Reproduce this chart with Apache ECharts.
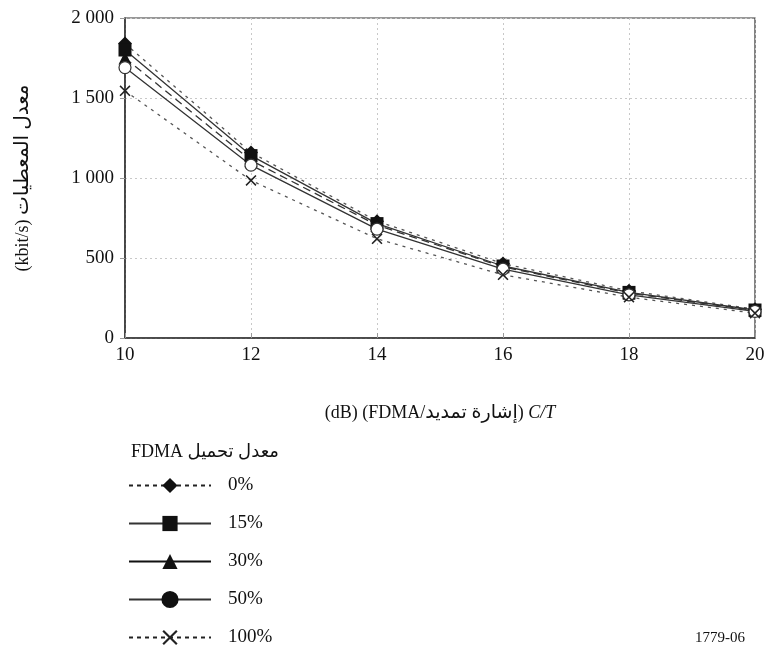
<!DOCTYPE html>
<html>
<head>
<meta charset="utf-8">
<script src="https://cdn.jsdelivr.net/npm/echarts@6/dist/echarts.min.js"></script>
<style>
    html, body { margin: 0; padding: 0; background: #fff; }
    #chart { width: 764px; height: 648px; }
</style>
</head>
<body>
<div id="chart"></div>
<script>
// C/T (dB)
var ctValues = [10, 12, 14, 16, 18, 20]
// kbit/s per FDMA load
var load0 = [1840, 1160, 730, 465, 295, 180]
var load15 = [1800, 1140, 715, 450, 285, 175]
var load30 = [1750, 1110, 705, 445, 280, 172]
var load50 = [1690, 1080, 680, 430, 270, 166]
var load100 = [1545, 985, 620, 395, 255, 155]
var seriesNames = ['0%', '15%', '30%', '50%', '100%']

var serif = '"Liberation Serif", "DejaVu Serif", "DejaVu Sans", serif'
var crossPath = 'path://M0,1L1,0L5,4L9,0L10,1L6,5L10,9L9,10L5,6L1,10L0,9L4,5Z'

function pairs(ys) {
    return ctValues.map(function (x, i) { return [x, ys[i]] })
}

function fmtThousands(v) {
    var s = String(v)
    if (v >= 1000) {
        s = s.slice(0, s.length - 3) + ' ' + s.slice(s.length - 3)
    }
    return s
}

var chart = echarts.init(document.getElementById('chart'))

function makeSeries(name, data, symbol, size, lineType, lineColor, fill) {
    return {
        name: name,
        type: 'line',
        data: pairs(data),
        symbol: symbol,
        symbolSize: size,
        showAllSymbol: true,
        lineStyle: { color: lineColor, width: 1.3, type: lineType },
        itemStyle: fill,
        z: 3
    }
}

var txt = { fontFamily: serif, fontSize: 18, color: '#111' }

var option = {
    animation: false,
    title: [{
        text: 'FDMA معدل تحميل',
        left: 126,
        top: 438,
        textStyle: { fontFamily: serif, fontSize: 18, fontWeight: 'normal', color: '#111' }
    }, {
        text: '1779-06',
        right: 14,
        top: 626,
        textStyle: { fontFamily: serif, fontSize: 15, fontWeight: 'normal', color: '#111' }
    }],
    legend: {
        orient: 'vertical',
        left: 128,
        top: 476,
        height: 220,
        padding: 0,
        itemWidth: 82,
        itemHeight: 19,
        itemGap: 19,
        textStyle: { fontFamily: serif, fontSize: 19, color: '#111', padding: [0, 0, 0, 12] },
        data: [
            { name: '0%', lineStyle: { type: [4, 4], color: '#222' } },
            { name: '15%' },
            { name: '30%', lineStyle: { type: 'solid', color: '#111' } },
            { name: '50%', itemStyle: { color: '#111', borderColor: '#111' } },
            { name: '100%', lineStyle: { type: [4, 4], color: '#222' } }
        ]
    },
    grid: {
        left: 125,
        right: 9,
        top: 18,
        bottom: 310,
        outerBoundsMode: 'none',
        show: true,
        borderColor: '#333',
        borderWidth: 1.2
    },
    xAxis: {
        type: 'value',
        min: 10,
        max: 20,
        interval: 2,
        name: '{a|(dB) (FDMA/}{c|إشارة تمديد}{a|) }{b|C/T}',
        nameLocation: 'middle',
        nameGap: 66,
        nameTextStyle: {
            rich: {
                a: txt,
                c: { fontFamily: serif, fontSize: 19, color: '#111' },
                b: { fontFamily: serif, fontSize: 18, color: '#111', fontStyle: 'italic' }
            }
        },
        axisLine: { lineStyle: { color: '#333', width: 1.5 } },
        axisTick: { inside: true, length: 5, lineStyle: { color: '#999' } },
        axisLabel: { fontFamily: serif, fontSize: 19, color: '#111', margin: 8 },
        splitLine: { show: true, lineStyle: { color: '#c8c8c8', type: [2, 3] } }
    },
    yAxis: {
        type: 'value',
        min: 0,
        max: 2000,
        interval: 500,
        name: '{a|(kbit/s) }{c|معدل المعطيات}',
        nameLocation: 'middle',
        nameGap: 92,
        nameTextStyle: {
            rich: {
                a: txt,
                c: { fontFamily: serif, fontSize: 20, color: '#111' }
            }
        },
        axisLine: { show: true, lineStyle: { color: '#333', width: 1.5 } },
        axisTick: { show: true, length: 5, lineStyle: { color: '#999' } },
        axisLabel: { fontFamily: serif, fontSize: 19, color: '#111', margin: 11, formatter: fmtThousands },
        splitLine: { show: true, lineStyle: { color: '#c8c8c8', type: [2, 3] } }
    },
    series: [
        makeSeries('0%', load0, 'diamond', 14, [3, 5], '#555', { color: '#111' }),
        makeSeries('15%', load15, 'rect', 13, 'solid', '#333', { color: '#111' }),
        makeSeries('30%', load30, 'triangle', 13, [8, 5], '#333', { color: '#111' }),
        makeSeries('50%', load50, 'circle', 12, 'solid', '#333', { color: '#fff', borderColor: '#333', borderWidth: 1.2 }),
        makeSeries('100%', load100, crossPath, 11, [3, 5], '#555', { color: '#222' })
    ]
}

chart.setOption(option)
</script>
</body>
</html>
